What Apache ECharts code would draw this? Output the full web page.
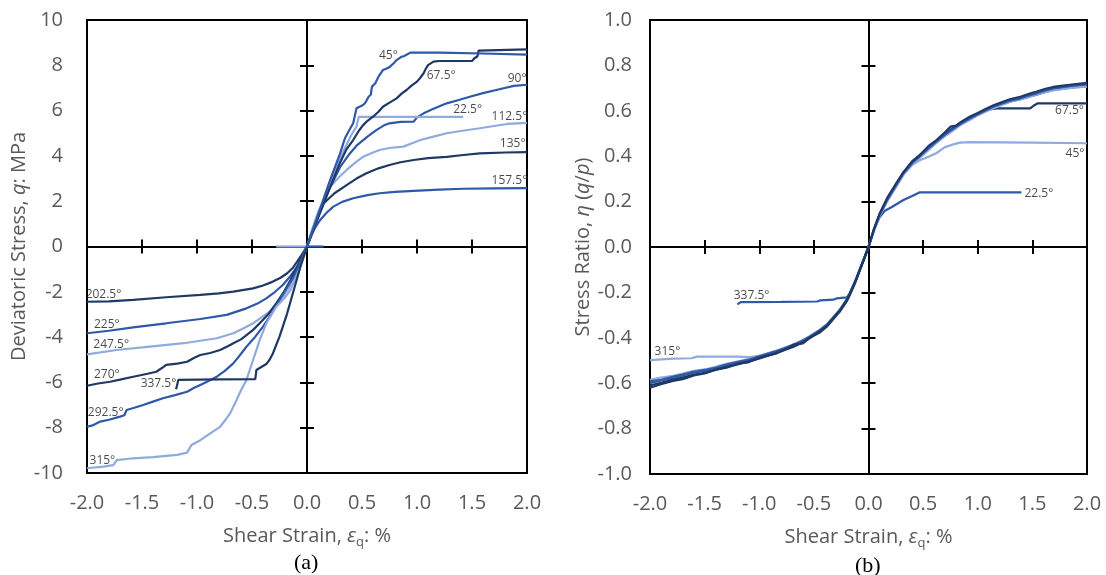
<!DOCTYPE html>
<html>
<head>
<meta charset="utf-8">
<script src="https://cdn.jsdelivr.net/npm/echarts@6/dist/echarts.min.js"></script>
<style>
  html, body { margin: 0; padding: 0; background: #fff; }
  #chart { width: 1106px; height: 575px; }
</style>
</head>
<body>
<div id="chart"></div>
<script>
// ---------- tick values ----------
const strainTicks = [-2, 2, 0.5];      // min, max, step (shear strain, %)
const qTicks = [-10, 10, 2];           // deviatoric stress, MPa
const etaTicks = [-1, 1, 0.2];         // stress ratio

// ---------- (a) deviatoric stress q vs shear strain, one curve per Lode angle ----------
const q0 = [[0, 0], [0.15, 0]];
const q180 = [[-0.28, 0], [0, 0]];
const q22_5 = [[0, 0], [0.1, 1.3], [0.2, 2.7], [0.3, 3.9], [0.4, 4.9], [0.45, 5.3], [0.46, 5.35], [0.47, 5.72], [0.7, 5.72], [1.0, 5.72], [1.42, 5.72]];
const q45 = [[0, 0], [0.1, 1.4], [0.2, 2.8], [0.3, 4.1], [0.345, 4.78], [0.38, 5.1], [0.42, 5.44], [0.45, 6.1], [0.51, 6.25], [0.53, 6.35], [0.56, 6.61], [0.58, 6.7], [0.59, 7.06], [0.62, 7.2], [0.65, 7.5], [0.69, 7.79], [0.72, 7.85], [0.755, 7.94], [0.79, 8.1], [0.815, 8.23], [0.86, 8.38], [0.88, 8.4], [0.94, 8.56], [1.2, 8.56], [1.6, 8.52], [2.0, 8.47]];
const q67_5 = [[0, 0], [0.1, 1.25], [0.2, 2.5], [0.3, 3.7], [0.36, 4.3], [0.42, 4.7], [0.47, 5.1], [0.51, 5.36], [0.55, 5.55], [0.6, 5.73], [0.65, 5.95], [0.69, 6.17], [0.75, 6.35], [0.815, 6.54], [0.86, 6.75], [0.905, 6.91], [0.95, 7.1], [1.0, 7.28], [1.03, 7.45], [1.06, 7.65], [1.08, 7.85], [1.10, 8.01], [1.15, 8.16], [1.2, 8.19], [1.5, 8.19], [1.52, 8.3], [1.55, 8.4], [1.56, 8.65], [2.0, 8.7]];
const q90 = [[0, 0], [0.1, 1.3], [0.2, 2.5], [0.3, 3.5], [0.38, 4.05], [0.45, 4.45], [0.55, 4.85], [0.63, 5.14], [0.7, 5.35], [0.75, 5.44], [0.85, 5.5], [0.97, 5.51], [1.0, 5.7], [1.06, 5.88], [1.15, 6.08], [1.27, 6.32], [1.38, 6.47], [1.48, 6.61], [1.6, 6.77], [1.72, 6.91], [1.88, 7.09], [2.0, 7.14]];
const q112_5 = [[0, 0], [0.05, 0.8], [0.1, 1.5], [0.21, 2.64], [0.3, 3.1], [0.36, 3.38], [0.45, 3.75], [0.51, 3.96], [0.6, 4.15], [0.66, 4.26], [0.75, 4.35], [0.875, 4.41], [0.95, 4.55], [1.03, 4.7], [1.15, 4.85], [1.27, 5.0], [1.4, 5.1], [1.57, 5.22], [1.7, 5.32], [1.82, 5.41], [2.0, 5.46]];
const q135 = [[0, 0], [0.05, 0.75], [0.1, 1.35], [0.15, 1.9], [0.25, 2.35], [0.36, 2.71], [0.45, 3.0], [0.54, 3.23], [0.65, 3.45], [0.75, 3.6], [0.85, 3.72], [0.97, 3.82], [1.1, 3.9], [1.27, 3.96], [1.4, 4.03], [1.57, 4.11], [1.8, 4.15], [2.0, 4.17]];
const q157_5 = [[0, 0], [0.04, 0.5], [0.08, 0.88], [0.12, 1.17], [0.18, 1.5], [0.24, 1.76], [0.32, 1.97], [0.42, 2.13], [0.55, 2.27], [0.66, 2.35], [0.8, 2.41], [0.97, 2.46], [1.2, 2.51], [1.42, 2.55], [1.7, 2.57], [2.0, 2.58]];
const q202_5 = [[-2, -2.44], [-1.8, -2.42], [-1.58, -2.36], [-1.28, -2.24], [-0.97, -2.14], [-0.8, -2.07], [-0.67, -1.99], [-0.49, -1.85], [-0.4, -1.72], [-0.31, -1.55], [-0.24, -1.38], [-0.18, -1.18], [-0.13, -0.95], [-0.09, -0.67], [-0.05, -0.38], [0, 0]];
const q225 = [[-2, -3.83], [-1.8, -3.72], [-1.58, -3.57], [-1.28, -3.39], [-0.97, -3.2], [-0.73, -3.02], [-0.55, -2.73], [-0.45, -2.52], [-0.37, -2.29], [-0.29, -2.0], [-0.22, -1.7], [-0.15, -1.3], [-0.09, -0.89], [-0.04, -0.42], [0, 0]];
const q247_5 = [[-2, -4.76], [-1.73, -4.57], [-1.43, -4.42], [-1.12, -4.27], [-0.82, -4.05], [-0.67, -3.83], [-0.58, -3.62], [-0.49, -3.39], [-0.42, -3.15], [-0.34, -2.88], [-0.28, -2.58], [-0.22, -2.22], [-0.15, -1.72], [-0.09, -1.18], [-0.04, -0.55], [0, 0]];
const q270 = [[-2, -6.15], [-1.9, -6.05], [-1.79, -5.97], [-1.7, -5.88], [-1.58, -5.75], [-1.45, -5.62], [-1.37, -5.53], [-1.3, -5.3], [-1.28, -5.23], [-1.18, -5.17], [-1.09, -5.09], [-1.02, -4.9], [-0.97, -4.79], [-0.88, -4.7], [-0.79, -4.57], [-0.72, -4.4], [-0.67, -4.27], [-0.6, -4.1], [-0.55, -3.91], [-0.49, -3.68], [-0.43, -3.39], [-0.35, -2.98], [-0.28, -2.51], [-0.21, -2.0], [-0.15, -1.48], [-0.08, -0.8], [0, 0]];
const q292_5 = [[-2, -7.96], [-1.95, -7.9], [-1.88, -7.73], [-1.8, -7.65], [-1.7, -7.51], [-1.66, -7.45], [-1.64, -7.22], [-1.57, -7.12], [-1.49, -7.0], [-1.4, -6.85], [-1.31, -6.7], [-1.2, -6.56], [-1.09, -6.41], [-1.03, -6.25], [-0.97, -6.11], [-0.9, -5.95], [-0.82, -5.75], [-0.75, -5.5], [-0.67, -5.16], [-0.61, -4.8], [-0.55, -4.42], [-0.47, -3.98], [-0.4, -3.54], [-0.32, -2.95], [-0.25, -2.36], [-0.18, -1.8], [-0.12, -1.33], [-0.06, -0.7], [0, 0]];
const q315 = [[-2, -9.79], [-1.85, -9.72], [-1.76, -9.65], [-1.73, -9.43], [-1.58, -9.35], [-1.4, -9.3], [-1.18, -9.2], [-1.09, -9.1], [-1.05, -8.76], [-0.97, -8.55], [-0.88, -8.25], [-0.79, -7.96], [-0.74, -7.65], [-0.7, -7.37], [-0.64, -6.78], [-0.6, -6.35], [-0.55, -5.89], [-0.49, -5.01], [-0.43, -4.13], [-0.37, -3.39], [-0.28, -2.66], [-0.2, -2.25], [-0.15, -1.92], [-0.06, -0.89], [0, 0]];
const q337_5 = [[-1.19, -6.3], [-1.17, -5.89], [-0.8, -5.87], [-0.47, -5.86], [-0.46, -5.45], [-0.37, -5.19], [-0.34, -5.0], [-0.31, -4.72], [-0.28, -4.35], [-0.25, -3.98], [-0.18, -2.95], [-0.12, -1.92], [-0.06, -0.89], [0, 0]];

// ---------- (b) stress ratio eta = q/p vs shear strain ----------
const eta22_5 = [[0, 0], [0.05, 0.075], [0.1, 0.13], [0.15, 0.16], [0.21, 0.175], [0.32, 0.207], [0.4, 0.225], [0.47, 0.241], [0.7, 0.241], [1.0, 0.241], [1.4, 0.241]];
const eta45 = [[0, 0], [0.05, 0.075], [0.1, 0.14], [0.17, 0.207], [0.25, 0.27], [0.32, 0.32], [0.4, 0.362], [0.47, 0.382], [0.55, 0.398], [0.62, 0.413], [0.7, 0.44], [0.78, 0.453], [0.84, 0.46], [0.93, 0.462], [1.5, 0.46], [2.0, 0.457]];
const eta67_5 = [[0, 0], [0.05, 0.078], [0.1, 0.142], [0.17, 0.21], [0.25, 0.272], [0.32, 0.328], [0.4, 0.372], [0.47, 0.405], [0.55, 0.44], [0.62, 0.468], [0.7, 0.498], [0.78, 0.527], [0.85, 0.548], [0.93, 0.568], [1.0, 0.588], [1.08, 0.604], [1.17, 0.611], [1.48, 0.611], [1.51, 0.622], [1.55, 0.633], [2.0, 0.633]];
const eta90 = [[0, 0], [0.05, 0.075], [0.1, 0.14], [0.17, 0.207], [0.25, 0.27], [0.32, 0.325], [0.4, 0.37], [0.47, 0.4], [0.55, 0.435], [0.62, 0.464], [0.7, 0.495], [0.78, 0.523], [0.85, 0.545], [0.93, 0.567], [1.0, 0.585], [1.08, 0.603], [1.15, 0.62], [1.23, 0.633], [1.3, 0.645], [1.39, 0.655], [1.47, 0.668], [1.54, 0.677], [1.62, 0.69], [1.69, 0.699], [1.8, 0.706], [1.9, 0.712], [2.0, 0.716]];
const eta112_5 = [[0, 0], [0.05, 0.072], [0.1, 0.135], [0.17, 0.2], [0.25, 0.262], [0.32, 0.318], [0.4, 0.362], [0.47, 0.392], [0.55, 0.428], [0.62, 0.457], [0.7, 0.488], [0.78, 0.515], [0.85, 0.54], [0.93, 0.56], [1.0, 0.58], [1.08, 0.598], [1.15, 0.612], [1.23, 0.628], [1.3, 0.64], [1.39, 0.65], [1.47, 0.661], [1.54, 0.672], [1.62, 0.682], [1.69, 0.69], [1.8, 0.697], [1.9, 0.703], [2.0, 0.706]];
const eta135 = [[0, 0], [0.05, 0.08], [0.1, 0.145], [0.17, 0.215], [0.25, 0.278], [0.32, 0.33], [0.4, 0.378], [0.47, 0.405], [0.55, 0.445], [0.62, 0.47], [0.7, 0.505], [0.75, 0.53], [0.8, 0.535], [0.85, 0.552], [0.93, 0.575], [1.0, 0.59], [1.08, 0.61], [1.15, 0.625], [1.23, 0.64], [1.3, 0.652], [1.39, 0.662], [1.47, 0.675], [1.54, 0.685], [1.62, 0.697], [1.69, 0.705], [1.8, 0.712], [1.9, 0.718], [2.0, 0.723]];
const eta157_5 = [[0, 0], [0.05, 0.074], [0.1, 0.138], [0.17, 0.204], [0.25, 0.266], [0.32, 0.322], [0.4, 0.366], [0.47, 0.398], [0.55, 0.432], [0.62, 0.46], [0.7, 0.492], [0.78, 0.52], [0.85, 0.542], [0.93, 0.563], [1.0, 0.582], [1.08, 0.6], [1.15, 0.616], [1.23, 0.63], [1.3, 0.641], [1.39, 0.651], [1.47, 0.662], [1.54, 0.671], [1.62, 0.683], [1.69, 0.692], [1.8, 0.699], [1.9, 0.704], [2.0, 0.708]];
const eta202_5 = [[-2, -0.61], [-1.9, -0.598], [-1.79, -0.585], [-1.7, -0.575], [-1.6, -0.562], [-1.48, -0.553], [-1.4, -0.542], [-1.3, -0.528], [-1.18, -0.515], [-1.1, -0.505], [-0.99, -0.49], [-0.85, -0.468], [-0.69, -0.44], [-0.6, -0.42], [-0.54, -0.402], [-0.45, -0.374], [-0.38, -0.347], [-0.32, -0.313], [-0.26, -0.28], [-0.2, -0.237], [-0.17, -0.207], [-0.12, -0.152], [-0.08, -0.102], [-0.04, -0.052], [0, 0]];
const eta225 = [[-2, -0.6], [-1.9, -0.588], [-1.79, -0.578], [-1.7, -0.566], [-1.6, -0.553], [-1.48, -0.545], [-1.4, -0.535], [-1.3, -0.52], [-1.18, -0.507], [-1.1, -0.5], [-0.99, -0.483], [-0.85, -0.462], [-0.69, -0.434], [-0.6, -0.414], [-0.54, -0.397], [-0.45, -0.37], [-0.38, -0.344], [-0.32, -0.31], [-0.26, -0.277], [-0.2, -0.234], [-0.17, -0.204], [-0.12, -0.15], [-0.08, -0.1], [-0.04, -0.05], [0, 0]];
const eta247_5 = [[-2, -0.585], [-1.9, -0.575], [-1.79, -0.568], [-1.7, -0.558], [-1.6, -0.546], [-1.48, -0.538], [-1.4, -0.528], [-1.3, -0.515], [-1.18, -0.502], [-1.1, -0.494], [-0.99, -0.478], [-0.85, -0.458], [-0.69, -0.43], [-0.6, -0.41], [-0.54, -0.393], [-0.45, -0.366], [-0.38, -0.34], [-0.32, -0.307], [-0.26, -0.274], [-0.2, -0.232], [-0.17, -0.202], [-0.12, -0.149], [-0.08, -0.099], [-0.04, -0.049], [0, 0]];
const eta270 = [[-2, -0.62], [-1.9, -0.604], [-1.79, -0.59], [-1.7, -0.582], [-1.6, -0.566], [-1.5, -0.557], [-1.4, -0.54], [-1.3, -0.532], [-1.18, -0.512], [-1.1, -0.508], [-0.99, -0.486], [-0.85, -0.47], [-0.75, -0.448], [-0.69, -0.43], [-0.6, -0.425], [-0.54, -0.4], [-0.45, -0.378], [-0.38, -0.35], [-0.32, -0.316], [-0.26, -0.283], [-0.2, -0.24], [-0.17, -0.21], [-0.12, -0.155], [-0.08, -0.104], [-0.04, -0.053], [0, 0]];
const eta292_5 = [[-2, -0.592], [-1.9, -0.585], [-1.79, -0.572], [-1.7, -0.562], [-1.6, -0.55], [-1.48, -0.54], [-1.4, -0.532], [-1.3, -0.518], [-1.18, -0.505], [-1.1, -0.497], [-0.99, -0.48], [-0.85, -0.46], [-0.69, -0.433], [-0.6, -0.412], [-0.54, -0.396], [-0.45, -0.368], [-0.38, -0.342], [-0.32, -0.309], [-0.26, -0.276], [-0.2, -0.233], [-0.17, -0.203], [-0.12, -0.15], [-0.08, -0.1], [-0.04, -0.05], [0, 0]];
const eta315 = [[-2, -0.498], [-1.79, -0.492], [-1.62, -0.49], [-1.57, -0.483], [-1.2, -0.483], [-1.08, -0.485], [-0.99, -0.478], [-0.85, -0.458], [-0.69, -0.432], [-0.6, -0.412], [-0.54, -0.395], [-0.45, -0.368], [-0.38, -0.342], [-0.32, -0.309], [-0.26, -0.276], [-0.2, -0.234], [-0.17, -0.204], [-0.12, -0.15], [-0.08, -0.1], [-0.04, -0.05], [0, 0]];
const eta337_5 = [[-1.2, -0.253], [-1.17, -0.243], [-0.8, -0.242], [-0.47, -0.24], [-0.44, -0.235], [-0.32, -0.232], [-0.29, -0.226], [-0.2, -0.222], [-0.17, -0.204], [-0.12, -0.15], [-0.08, -0.1], [-0.04, -0.05], [0, 0]];

// ---------- curve annotations: [text, strain, value] ----------
const labelsA = [
  ['45°', 0.74, 8.45], ['67.5°', 1.22, 7.53], ['90°', 1.91, 7.42], ['22.5°', 1.46, 6.03],
  ['112.5°', 1.84, 5.72], ['135°', 1.87, 4.53], ['157.5°', 1.84, 2.89],
  ['202.5°', -1.85, -2.14], ['225°', -1.82, -3.43], ['247.5°', -1.78, -4.34], ['270°', -1.82, -5.67],
  ['337.5°', -1.35, -6.04], ['292.5°', -1.83, -7.34], ['315°', -1.86, -9.43]
];
const labelsB = [
  ['67.5°', 1.84, 0.60], ['45°', 1.89, 0.413], ['22.5°', 1.56, 0.236],
  ['337.5°', -1.07, -0.215], ['315°', -1.84, -0.461]
];

// ---------- styling ----------
const STEEL = '#2E58A8';
const NAVY = '#1F3864';
const SKY = '#8FAADC';
const GRAY = '#595959';
const FONT = '"Open Sans", sans-serif';

const curvesA = [
  [q180, SKY], [q0, STEEL],
  [q157_5, STEEL], [q135, NAVY], [q112_5, SKY], [q90, STEEL], [q22_5, SKY], [q67_5, NAVY], [q45, STEEL],
  [q202_5, NAVY], [q225, STEEL], [q247_5, SKY], [q270, NAVY], [q292_5, STEEL], [q315, SKY], [q337_5, NAVY]
];
const curvesB = [
  [eta22_5, STEEL], [eta45, SKY], [eta67_5, NAVY],
  [eta157_5, STEEL], [eta112_5, SKY], [eta90, STEEL], [eta135, NAVY],
  [eta337_5, STEEL], [eta315, SKY],
  [eta247_5, SKY], [eta225, STEEL], [eta292_5, STEEL], [eta202_5, NAVY], [eta270, NAVY]
];

const nameStyle = {
  color: GRAY, fontFamily: FONT, fontSize: 20,
  rich: {
    i: { color: GRAY, fontFamily: FONT, fontSize: 20, fontStyle: 'italic' },
    s: { color: GRAY, fontFamily: FONT, fontSize: 13, padding: [12, 0, 0, 0] }
  }
};

// value axes per panel: one carrying labels and title, plus two crossing at zero
// so the tick marks straddle the zero lines
function xAxesFor(grid, yIdx, ticks) {
  const base = { type: 'value', gridIndex: grid, min: ticks[0], max: ticks[1], interval: ticks[2], splitLine: { show: false } };
  const zeroLine = { lineStyle: { color: '#000', width: 2 } };
  return [
    Object.assign({}, base, {
      position: 'bottom',
      axisLine: { show: false, onZero: false }, axisTick: { show: false },
      axisLabel: { margin: 20, color: GRAY, fontFamily: FONT, fontSize: 20, formatter: v => v.toFixed(1) },
      name: 'Shear Strain, {i|ε}{s|q}: %', nameLocation: 'middle', nameGap: 51, nameTextStyle: nameStyle
    }),
    Object.assign({}, base, {
      position: 'bottom',
      axisLine: Object.assign({ onZero: true, onZeroAxisIndex: yIdx }, zeroLine),
      axisTick: { length: 7, lineStyle: { color: '#000', width: 2 } }, axisLabel: { show: false }
    }),
    Object.assign({}, base, {
      position: 'top',
      axisLine: Object.assign({ onZero: true, onZeroAxisIndex: yIdx }, zeroLine),
      axisTick: { length: 7, lineStyle: { color: '#000', width: 2 } }, axisLabel: { show: false }
    })
  ];
}
function yAxesFor(grid, xIdx, ticks, fmt, margin, name, gap) {
  const base = { type: 'value', gridIndex: grid, min: ticks[0], max: ticks[1], interval: ticks[2], splitLine: { show: false } };
  const zeroLine = { lineStyle: { color: '#000', width: 2 } };
  return [
    Object.assign({}, base, {
      position: 'left',
      axisLine: { show: false, onZero: false }, axisTick: { show: false },
      axisLabel: { margin: margin, color: GRAY, fontFamily: FONT, fontSize: 20, formatter: fmt },
      name: name, nameLocation: 'middle', nameGap: gap, nameRotate: 90, nameTextStyle: nameStyle
    }),
    Object.assign({}, base, {
      position: 'left',
      axisLine: Object.assign({ onZero: true, onZeroAxisIndex: xIdx }, zeroLine),
      axisTick: { length: 7, lineStyle: { color: '#000', width: 2 } }, axisLabel: { show: false }
    }),
    Object.assign({}, base, {
      position: 'right',
      axisLine: Object.assign({ onZero: true, onZeroAxisIndex: xIdx }, zeroLine),
      axisTick: { length: 7, lineStyle: { color: '#000', width: 2 } }, axisLabel: { show: false }
    })
  ];
}

function lineSeries(curves, axisIdx) {
  return curves.map(([data, color]) => ({
    type: 'line', xAxisIndex: axisIdx, yAxisIndex: axisIdx, data: data,
    showSymbol: false, symbol: 'none', silent: true, z: 3,
    lineStyle: { color: color, width: 2.2 }
  }));
}
function labelSeries(labels, axisIdx, size) {
  return {
    type: 'scatter', xAxisIndex: axisIdx, yAxisIndex: axisIdx, symbolSize: 0, silent: true, z: 5,
    data: labels.map(([text, x, y]) => ({ name: text, value: [x, y] })),
    label: { show: true, position: 'inside', formatter: '{b}', color: '#1a1a1a', fontFamily: FONT, fontSize: size }
  };
}

const chart = echarts.init(document.getElementById('chart'), null, { renderer: 'canvas' });
chart.setOption({
  animation: false,
  backgroundColor: '#fff',
  grid: [
    { left: 87, top: 20, width: 440, height: 453, show: true, borderColor: '#000', borderWidth: 2, backgroundColor: 'transparent' },
    { left: 650, top: 20, width: 437, height: 454, show: true, borderColor: '#000', borderWidth: 2, backgroundColor: 'transparent' }
  ],
  xAxis: [].concat(xAxesFor(0, 0, strainTicks), xAxesFor(1, 3, strainTicks)),
  yAxis: [].concat(
    yAxesFor(0, 0, qTicks, v => String(v), 24, 'Deviatoric Stress, {i|q}: MPa', 53),
    yAxesFor(1, 3, etaTicks, v => v.toFixed(1), 18, 'Stress Ratio, {i|η} ({i|q}/{i|p})', 55)
  ),
  graphic: [
    { type: 'text', left: 294, top: 552, style: { text: '(a)', font: '22px "Liberation Serif", serif', fill: '#000' } },
    { type: 'text', left: 855, top: 555, style: { text: '(b)', font: '22px "Liberation Serif", serif', fill: '#000' } }
  ],
  series: [].concat(
    lineSeries(curvesA, 0),
    lineSeries(curvesB, 3),
    [labelSeries(labelsA, 0, 12), labelSeries(labelsB, 3, 12)]
  )
});
</script>
</body>
</html>
